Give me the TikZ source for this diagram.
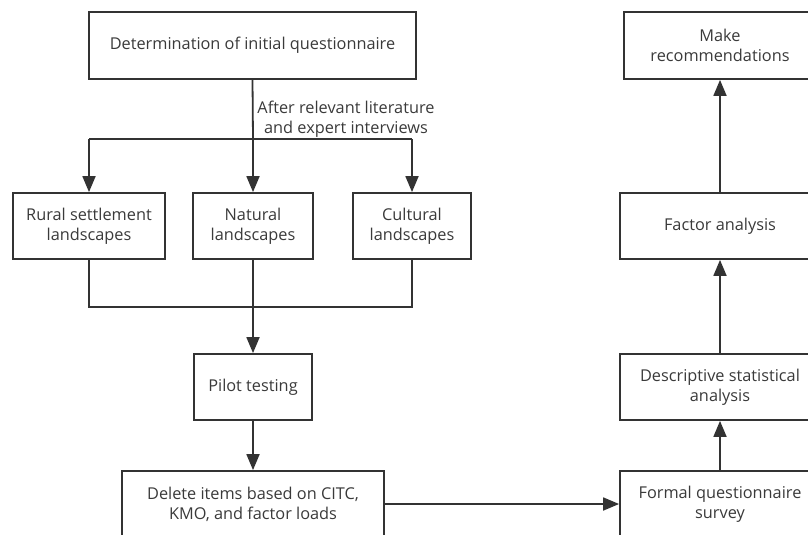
\documentclass[tikz,border=0pt]{standalone}
\usepackage{fontspec}
\setmainfont{Open Sans}
\usetikzlibrary{arrows.meta}
\definecolor{ln}{HTML}{333333}
\definecolor{tx}{HTML}{3A3A3A}
\tikzset{
  box/.style={draw=ln, line width=1.8pt, fill=white, text=tx, align=center, inner sep=0pt,
    font=\fontsize{16.3}{20}\selectfont},
  conn/.style={draw=ln, line width=1.8pt},
  arr/.style={conn, -{Triangle[length=16pt,width=13pt]}},
  lbl/.style={text=tx, align=center, font=\fontsize{16.3}{20}\selectfont, inner sep=0pt}
}
\begin{document}
\begin{tikzpicture}[x=1pt,y=-1pt]
\useasboundingbox (0,0) rectangle (808,535);
\clip (0,0) rectangle (808,535);
% left column
\node[box, minimum width=327pt, minimum height=67pt] (init) at (252.5,45.5) {Determination of initial questionnaire};
\node[box, minimum width=152pt, minimum height=66pt] (rural) at (89,226) {Rural settlement\\landscapes};
\node[box, minimum width=120pt, minimum height=66pt] (nat) at (253,226) {Natural\\landscapes};
\node[box, minimum width=118pt, minimum height=66pt] (cult) at (412,226) {Cultural\\landscapes};
\node[box, minimum width=118pt, minimum height=66pt] (pilot) at (253,387) {Pilot testing};
\node[box, minimum width=262pt, minimum height=66pt] (del) at (253,504) {Delete items based on CITC,\\KMO, and factor loads};
% right column
\node[box, minimum width=192pt, minimum height=67pt] (rec) at (720,45.5) {Make\\recommendations};
\node[box, minimum width=200pt, minimum height=66pt] (fac) at (720,226) {Factor analysis};
\node[box, minimum width=200pt, minimum height=66pt] (desc) at (720,387) {Descriptive statistical\\analysis};
\node[box, minimum width=200pt, minimum height=66pt] (form) at (720,504) {Formal questionnaire\\survey};
% split
\coordinate (sp) at (253,139);
\coordinate (spl) at (89,139);
\coordinate (spr) at (412,139);
\draw[conn] (init.south) -- (sp);
\draw[conn] (spl) -- (spr);
\draw[arr] (spl) -- (rural.north);
\draw[arr] (sp) -- (nat.north);
\draw[arr] (spr) -- (cult.north);
\node[lbl] (lab) at (346,119) {After relevant literature\\and expert interviews};
% merge
\coordinate (mg) at (253,307);
\coordinate (mgl) at (89,307);
\coordinate (mgr) at (412,307);
\draw[conn] (rural.south) -- (mgl) -- (mgr) -- (cult.south);
\draw[conn] (nat.south) -- (mg);
\draw[arr] (mg) -- (pilot.north);
\draw[arr] (pilot.south) -- (del.north);
\draw[arr] (del.east) -- (form.west);
\draw[arr] (form.north) -- (desc.south);
\draw[arr] (desc.north) -- (fac.south);
\draw[arr] (fac.north) -- (rec.south);
\end{tikzpicture}
\end{document}
